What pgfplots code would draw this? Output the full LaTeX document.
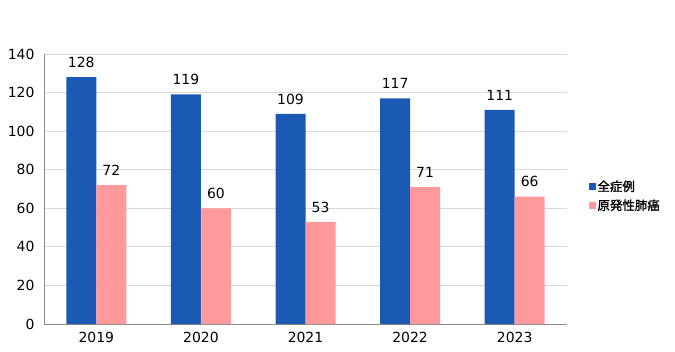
\documentclass[border=0pt]{standalone}
\usepackage{pgfplots}
\pgfplotsset{compat=1.18}
\usepackage{fontspec}
\setmainfont{DejaVu Sans}
\newfontfamily\jp[FakeBold=1.5]{Noto Sans CJK JP}
\definecolor{cblue}{HTML}{1B5AB4}
\definecolor{cpink}{HTML}{FF999C}
\definecolor{cgrid}{HTML}{D9D9D9}
\definecolor{caxis}{HTML}{8C8C8C}
\begin{document}
\begin{tikzpicture}[x=1bp,y=1bp]
\path[use as bounding box] (0,0) rectangle (675,351);
\begin{axis}[
  at={(44bp,27bp)}, anchor=south west,
  scale only axis, width=523bp, height=270bp,
  xmin=-0.5, xmax=4.5, ymin=0, ymax=140,
  xtick={0,1,2,3,4}, xticklabels={2019,2020,2021,2022,2023},
  ytick={0,20,...,140},
  ymajorgrids, grid style={cgrid, line width=0.8pt},
  axis x line*=bottom, axis y line*=left,
  axis line style={caxis, line width=0.8pt},
  x axis line style={-}, y axis line style={-},
  major tick length=0pt,
  tick label style={font=\fontsize{14}{16}\selectfont, text=black},
  yticklabel style={xshift=-6bp},
  xticklabel style={yshift=-5bp},
  /pgf/number format/assume math mode=true,
  ybar, bar width=30bp,
  nodes near coords,
  nodes near coords style={font=\fontsize{14}{16}\selectfont, text=black, yshift=6bp},
  legend cell align=left,
  legend style={at={(1.035,0.474)}, anchor=west, draw=none, fill=none,
    font=\jp\fontsize{12.5}{14}\selectfont, row sep=3bp,
    /tikz/every even column/.append style={column sep=2bp}},
  legend image code/.code={\fill[#1] (0bp,-3.5bp) rectangle (7bp,3.5bp);},
  clip=false,
]
\addplot[fill=cblue, draw=none, bar shift=-15bp] coordinates {(0,128) (1,119) (2,109) (3,117) (4,111)};
\addplot[fill=cpink, draw=none, bar shift=15bp] coordinates {(0,72) (1,60) (2,53) (3,71) (4,66)};
\legend{全症例,原発性肺癌}
\end{axis}
\end{tikzpicture}
\end{document}
